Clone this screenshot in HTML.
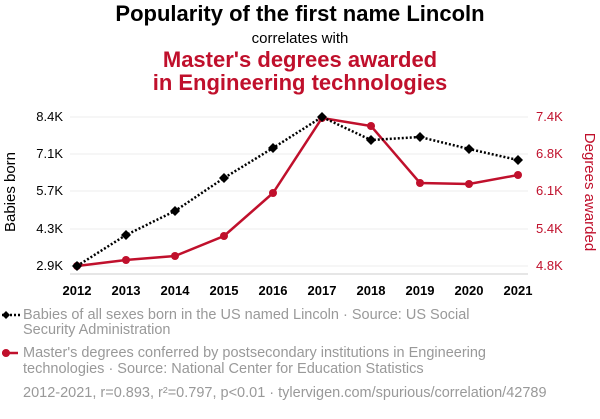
<!DOCTYPE html>
<html><head><meta charset="utf-8"><style>
body{margin:0;background:#fff;width:600px;height:414px;overflow:hidden;font-family:"Liberation Sans",sans-serif}
</style></head><body>
<svg width="600" height="414" xmlns="http://www.w3.org/2000/svg" font-family="Liberation Sans, sans-serif">
<text x="300" y="21" text-anchor="middle" font-size="22" font-weight="bold" fill="#000">Popularity of the first name Lincoln</text>
<text x="300" y="43" text-anchor="middle" font-size="15" fill="#000">correlates with</text>
<text x="300" y="67" text-anchor="middle" font-size="22" font-weight="bold" fill="#c0102c">Master's degrees awarded</text>
<text x="300" y="90" text-anchor="middle" font-size="22" font-weight="bold" fill="#c0102c">in Engineering technologies</text>
<g stroke="#eee" stroke-width="1">
<line x1="70" x2="528" y1="117" y2="117"/><line x1="70" x2="528" y1="154" y2="154"/><line x1="70" x2="528" y1="191" y2="191"/><line x1="70" x2="528" y1="229" y2="229"/><line x1="70" x2="528" y1="266" y2="266"/>
</g>
<line x1="70" x2="528" y1="274" y2="274" stroke="#ccc"/>
<g font-size="13" fill="#000" text-anchor="end">
<text x="63" y="121">8.4K</text><text x="63" y="158">7.1K</text><text x="63" y="195">5.7K</text><text x="63" y="233">4.3K</text><text x="63" y="270">2.9K</text>
</g>
<g font-size="13" fill="#c0102c" text-anchor="start">
<text x="536" y="121">7.4K</text><text x="536" y="158">6.8K</text><text x="536" y="195">6.1K</text><text x="536" y="233">5.4K</text><text x="536" y="270">4.8K</text>
</g>
<text transform="translate(15,192) rotate(-90)" text-anchor="middle" font-size="15" fill="#000">Babies born</text>
<text transform="translate(585,192) rotate(90)" text-anchor="middle" font-size="15" fill="#c0102c">Degrees awarded</text>
<g font-size="13" font-weight="bold" text-anchor="middle" fill="#000">
<text x="77" y="295">2012</text><text x="126" y="295">2013</text><text x="175" y="295">2014</text><text x="224" y="295">2015</text><text x="273" y="295">2016</text><text x="322" y="295">2017</text><text x="371" y="295">2018</text><text x="420" y="295">2019</text><text x="469" y="295">2020</text><text x="518" y="295">2021</text>
</g>
<polyline fill="none" stroke="#c0102c" stroke-width="2.5" points="77,266 126,260 175,256 224,236 273,193 322,118 371,126 420,183 469,184 518,175"/>
<g fill="#c0102c">
<circle cx="77" cy="266" r="4"/><circle cx="126" cy="260" r="4"/><circle cx="175" cy="256" r="4"/><circle cx="224" cy="236" r="4"/><circle cx="273" cy="193" r="4"/><circle cx="322" cy="118" r="4"/><circle cx="371" cy="126" r="4"/><circle cx="420" cy="183" r="4"/><circle cx="469" cy="184" r="4"/><circle cx="518" cy="175" r="4"/>
</g>
<polyline fill="none" stroke="#000" stroke-width="2.5" stroke-dasharray="2,2" points="77,266 126,235 175,211 224,178 273,148 322,117 371,140 420,137 469,149 518,160"/>
<g fill="#000">
<path d="M77 261l5 5-5 5-5-5z"/><path d="M126 230l5 5-5 5-5-5z"/><path d="M175 206l5 5-5 5-5-5z"/><path d="M224 173l5 5-5 5-5-5z"/><path d="M273 143l5 5-5 5-5-5z"/><path d="M322 112l5 5-5 5-5-5z"/><path d="M371 135l5 5-5 5-5-5z"/><path d="M420 132l5 5-5 5-5-5z"/><path d="M469 144l5 5-5 5-5-5z"/><path d="M518 155l5 5-5 5-5-5z"/>
</g>
<line x1="2" x2="20" y1="315" y2="315" stroke="#000" stroke-width="2.5" stroke-dasharray="2,2"/>
<path d="M6 311l4 4-4 4-4-4z" fill="#000"/>
<g font-size="14.5" fill="#999">
<text x="23" y="319">Babies of all sexes born in the US named Lincoln · Source: US Social</text>
<text x="23" y="334">Security Administration</text>
<text x="23" y="357">Master's degrees conferred by postsecondary institutions in Engineering</text>
<text x="23" y="373">technologies · Source: National Center for Education Statistics</text>
</g>
<text x="23" y="397" font-size="14.5" fill="#999">2012-2021, r=0.893, r²=0.797, p&lt;0.01 · tylervigen.com/spurious/correlation/42789</text>
<line x1="2" x2="18" y1="353" y2="353" stroke="#c0102c" stroke-width="2.5"/>
<circle cx="6" cy="353" r="4" fill="#c0102c"/>
</svg>
</body></html>
